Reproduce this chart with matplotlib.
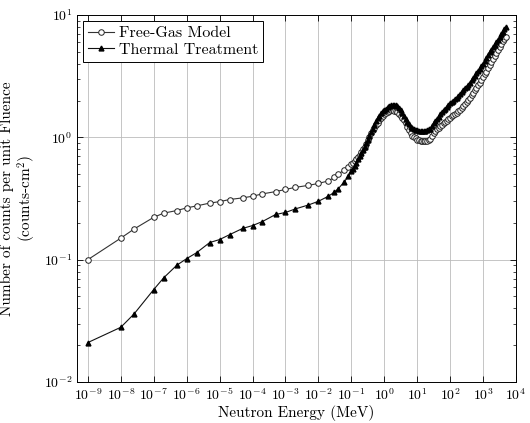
import numpy as np
import matplotlib
matplotlib.use("Agg")
import matplotlib.pyplot as plt

plt.rcParams['font.family'] = ['cmr10', 'DejaVu Serif']
plt.rcParams['mathtext.fontset'] = 'cm'
plt.rcParams['axes.formatter.use_mathtext'] = True

# sparse points below 0.1 MeV
e_low = [1e-9, 1e-8, 2.53e-8, 1e-7, 2e-7, 5e-7, 1e-6, 2e-6, 5e-6, 1e-5,
         2e-5, 5e-5, 1e-4, 2e-4, 5e-4, 1e-3, 2e-3, 5e-3, 1e-2, 2e-2,
         3e-2, 4e-2, 6e-2, 8e-2]
free_low = [0.10, 0.15, 0.178, 0.222, 0.24, 0.252, 0.265, 0.275, 0.29, 0.298,
            0.31, 0.32, 0.33, 0.345, 0.36, 0.375, 0.39, 0.405, 0.42, 0.44,
            0.47, 0.50, 0.54, 0.57]
therm_low = [0.021, 0.028, 0.036, 0.057, 0.071, 0.090, 0.102, 0.114, 0.138, 0.146,
             0.160, 0.180, 0.190, 0.205, 0.234, 0.243, 0.26, 0.28, 0.30, 0.33,
             0.355, 0.38, 0.43, 0.48]

# dense points from 0.1 MeV up, as log10(E / MeV)
loge_high = [-1.00, -0.95, -0.90, -0.85, -0.80, -0.75, -0.70, -0.65, -0.60, -0.55,
             -0.50, -0.45, -0.40, -0.35, -0.30, -0.25, -0.20, -0.15, -0.10, -0.05,
             0.00, 0.05, 0.10, 0.15, 0.20, 0.25, 0.30, 0.35, 0.40, 0.45,
             0.50, 0.55, 0.60, 0.65, 0.70, 0.75, 0.80, 0.85, 0.90, 0.95,
             1.00, 1.05, 1.10, 1.15, 1.20, 1.25, 1.30, 1.35, 1.40, 1.45,
             1.50, 1.55, 1.60, 1.65, 1.70, 1.75, 1.80, 1.85, 1.90, 1.95,
             2.00, 2.05, 2.10, 2.15, 2.20, 2.25, 2.30, 2.35, 2.40, 2.45,
             2.50, 2.55, 2.60, 2.65, 2.70, 2.75, 2.80, 2.85, 2.90, 2.95,
             3.00, 3.05, 3.10, 3.15, 3.20, 3.25, 3.30, 3.35, 3.40, 3.45,
             3.50, 3.55, 3.60, 3.65, 3.70]
free_high = [0.60, 0.62, 0.64, 0.665, 0.69, 0.72, 0.76, 0.80, 0.84, 0.89,
             0.95, 1.01, 1.08, 1.14, 1.20, 1.26, 1.32, 1.39, 1.45, 1.50,
             1.55, 1.59, 1.62, 1.65, 1.66, 1.66, 1.65, 1.63, 1.60, 1.55,
             1.50, 1.44, 1.38, 1.30, 1.22, 1.15, 1.08, 1.03, 1.00, 0.98,
             0.96, 0.95, 0.94, 0.93, 0.93, 0.93, 0.94, 0.95, 0.97, 1.02,
             1.08, 1.12, 1.16, 1.20, 1.24, 1.27, 1.30, 1.34, 1.37, 1.41,
             1.45, 1.49, 1.52, 1.55, 1.58, 1.63, 1.68, 1.74, 1.80, 1.87,
             1.95, 2.02, 2.10, 2.20, 2.30, 2.42, 2.55, 2.67, 2.80, 2.95,
             3.10, 3.27, 3.45, 3.67, 3.90, 4.15, 4.40, 4.65, 4.90, 5.20,
             5.50, 5.80, 6.10, 6.35, 6.60]
therm_high = [0.53, 0.555, 0.58, 0.62, 0.66, 0.70, 0.74, 0.79, 0.84, 0.90,
              0.96, 1.03, 1.10, 1.18, 1.27, 1.35, 1.43, 1.50, 1.57, 1.63,
              1.68, 1.72, 1.76, 1.80, 1.83, 1.84, 1.84, 1.83, 1.80, 1.74,
              1.66, 1.58, 1.50, 1.42, 1.34, 1.28, 1.22, 1.19, 1.16, 1.15,
              1.14, 1.13, 1.12, 1.12, 1.12, 1.13, 1.14, 1.16, 1.18, 1.24,
              1.30, 1.36, 1.42, 1.48, 1.54, 1.60, 1.66, 1.72, 1.78, 1.84,
              1.90, 1.95, 2.00, 2.05, 2.10, 2.17, 2.25, 2.33, 2.42, 2.51,
              2.60, 2.70, 2.80, 2.92, 3.05, 3.20, 3.35, 3.50, 3.65, 3.82,
              4.00, 4.22, 4.45, 4.70, 4.95, 5.20, 5.45, 5.72, 6.00, 6.30,
              6.60, 6.95, 7.30, 7.65, 8.00]

energy = e_low + list(10.0 ** np.array(loge_high))
free_gas = free_low + free_high
thermal = therm_low + therm_high

fig = plt.figure(figsize=(5.3, 4.23), dpi=100)
ax = fig.add_axes([0.1453, 0.097, 0.8283, 0.8675])

ax.plot(energy, free_gas, color='#333333', lw=0.8, marker='o', ms=4,
        mfc='white', mec='#222222', mew=0.7, label='Free-Gas Model')
ax.plot(energy, thermal, color='#111111', lw=0.8, marker='^', ms=3.5,
        mfc='black', mec='black', label='Thermal Treatment')

ax.set_xscale('log')
ax.set_yscale('log')
ax.set_xlim(10**-9.33, 1e4)
ax.set_ylim(1e-2, 1e1)
ax.set_xticks([10.0**k for k in range(-9, 5)])

ax.grid(True, which='major', color='#bbbbbb', lw=0.6)
ax.tick_params(which='both', direction='in', top=True, right=True, labelsize=10)
ax.tick_params(which='major', length=4, width=0.6)
ax.tick_params(which='minor', length=2, width=0.5)
for s in ax.spines.values():
    s.set_linewidth(0.7)

ax.set_xlabel('Neutron Energy (MeV)', fontsize=11, labelpad=1)
ax.set_ylabel('Number of counts per unit Fluence\n(counts-cm$^2$)', fontsize=11,
              linespacing=1.1, labelpad=4)

leg = ax.legend(loc='upper left', numpoints=1, fontsize=11.5, fancybox=False,
                edgecolor='black', framealpha=1, handlelength=1.6,
                borderpad=0.3, labelspacing=0.15, handletextpad=0.3,
                borderaxespad=0.4)
leg.get_frame().set_linewidth(0.7)

fig.savefig('out.png', dpi=100)
